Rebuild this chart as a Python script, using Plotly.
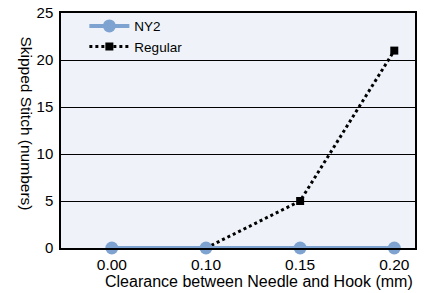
import plotly.graph_objects as go

categories = ["0.00", "0.10", "0.15", "0.20"]
ny2 = [0, 0, 0, 0]
regular = [0, 0, 5, 21]

x_idx = list(range(len(categories)))

fig = go.Figure()
fig.add_trace(go.Scatter(
    x=x_idx[1:], y=regular[1:], name="Regular", mode="lines+markers",
    line=dict(color="black", width=3, dash="dot"),
    marker=dict(symbol="square", size=8, color="black"),
    showlegend=False, cliponaxis=False,
))
fig.add_trace(go.Scatter(
    x=x_idx, y=ny2, name="NY2", mode="lines+markers",
    line=dict(color="#7fa3d0", width=4),
    marker=dict(symbol="circle", size=13, color="#7fa3d0"),
    cliponaxis=False,
))
fig.add_trace(go.Scatter(
    x=[None], y=[None], name="Regular", mode="lines+markers",
    line=dict(color="black", width=3, dash="dot"),
    marker=dict(symbol="square", size=8, color="black"),
))

fig.update_layout(
    width=429, height=293,
    margin=dict(l=61, r=14, t=11, b=45),
    paper_bgcolor="white",
    plot_bgcolor="#eff3f9",
    font=dict(family="Liberation Sans, Arial, sans-serif", size=15, color="black"),
    legend=dict(x=0.066, y=1.01, xanchor="left", yanchor="top",
                bgcolor="rgba(0,0,0,0)", font=dict(size=13.5),
                tracegroupgap=0, itemwidth=40),
    xaxis=dict(
        range=[-0.54, 3.22], tickmode="array", tickvals=x_idx, ticktext=categories,
        showgrid=False, zeroline=False, showline=True, linecolor="black", linewidth=1.5,
        mirror=True, ticks="", ticklen=0, automargin=False,
        tickfont=dict(size=15.5), ticklabelstandoff=2,
    ),
    yaxis=dict(
        range=[0, 25], tickvals=[0, 5, 10, 15, 20, 25],
        showgrid=True, gridcolor="black", gridwidth=1, zeroline=False,
        showline=True, linecolor="black", linewidth=1.5, mirror=True, ticks="",
        ticklen=0, automargin=False, tickfont=dict(size=15), ticklabelstandoff=3,
        ticklabeloverflow="allow",
    ),
    annotations=[
        dict(text="Clearance between Needle and Hook (mm)", xref="paper", yref="paper",
             x=1.0, xanchor="right", y=-0.143, yanchor="middle", showarrow=False,
             font=dict(size=16)),
        dict(text="Skipped Stitch (numbers)", xref="paper", yref="paper",
             x=-0.096, xanchor="center", y=0.53, yanchor="middle", textangle=90,
             showarrow=False, font=dict(size=15.5)),
    ],
)
fig.write_html("out.html", config={"displayModeBar": False},
               post_script="document.body.style.margin='0';")
